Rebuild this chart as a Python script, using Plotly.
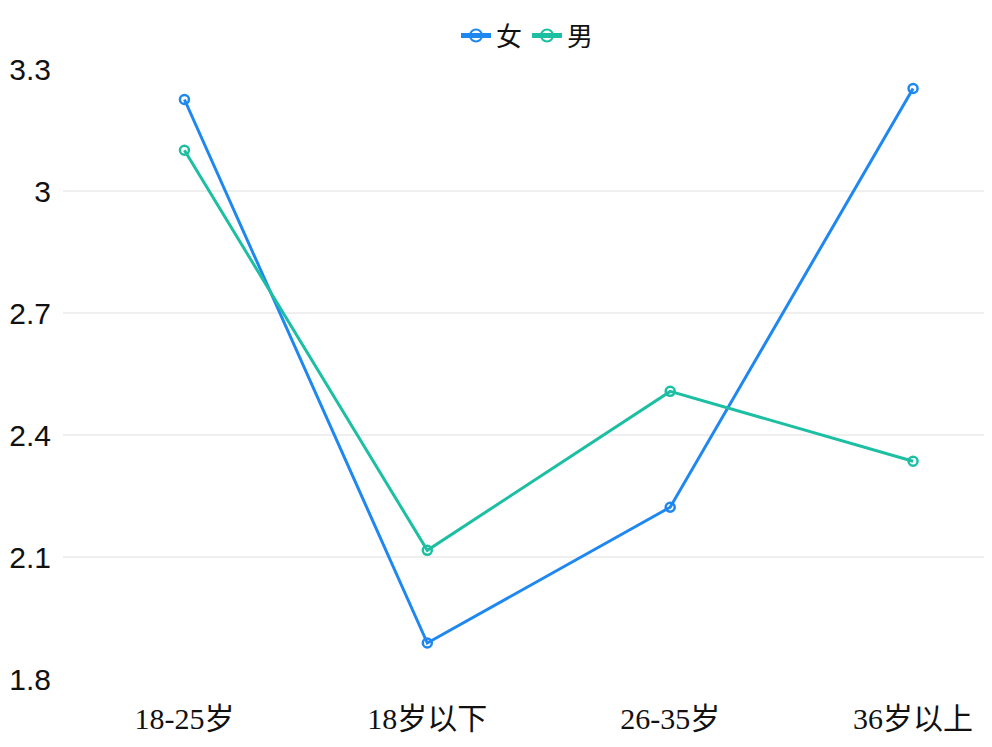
import plotly.graph_objects as go

categories = ["18-25岁", "18岁以下", "26-35岁", "36岁以上"]
female = [3.226, 1.889, 2.223, 3.253]
male = [3.101, 2.117, 2.508, 2.336]
y_ticks = [1.8, 2.1, 2.4, 2.7, 3.0, 3.3]
y_tick_text = ["1.8", "2.1", "2.4", "2.7", "3", "3.3"]

blue = "#1F88F0"
teal = "#1DBFA3"

fig = go.Figure()
for name, vals, col in [("女", female, blue), ("男", male, teal)]:
    fig.add_trace(go.Scatter(
        x=list(range(len(categories))), y=vals, name=name, mode="lines+markers",
        line=dict(color=col, width=3),
        marker=dict(symbol="circle-open", size=9, color=col, line=dict(width=2.5, color=col)),
    ))

fig.update_layout(
    width=992, height=747,
    margin=dict(l=55, r=8, t=61, b=75, autoexpand=False),
    paper_bgcolor="white", plot_bgcolor="white",
    showlegend=True,
    legend=dict(orientation="h", x=0.5, xanchor="center", xref="paper",
                y=0.963, yanchor="middle", yref="container",
                font=dict(family="Noto Sans CJK SC", size=26, color="#111"),
                itemwidth=30, itemsizing="constant", tracegroupgap=0),
    xaxis=dict(range=[-0.5, 3.325], tickmode="array", tickvals=list(range(len(categories))),
               ticktext=categories, showgrid=False, zeroline=False, showline=False,
               tickfont=dict(family="Liberation Serif, Noto Sans CJK SC", size=30, color="#111"),
               ticks="", ticklabelstandoff=18, automargin=False),
    yaxis=dict(range=[1.798, 3.301], tickmode="array", tickvals=y_ticks, ticktext=y_tick_text,
               showgrid=True, gridcolor="#EFEFEF", gridwidth=1.5, zeroline=False, showline=False,
               tickfont=dict(family="Liberation Sans, Arial", size=30, color="#111"),
               ticks="", ticklabelstandoff=11, automargin=False),
)

fig.write_html("out.html")
